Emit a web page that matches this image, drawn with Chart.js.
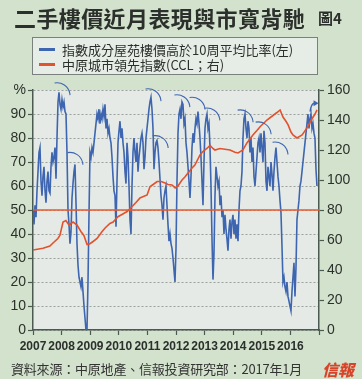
<!DOCTYPE html>
<html>
<head>
<meta charset="utf-8">
<script src="https://cdn.jsdelivr.net/npm/chart.js@4.4.0/dist/chart.umd.min.js"></script>
<style>
    body { margin: 0; width: 362px; height: 379px; overflow: hidden; position: relative;
           background: #d3e2cc; font-family: "Noto Sans CJK TC", sans-serif; color: #2c302d; }
    #title { position: absolute; left: 14px; top: 3px; font-size: 22px; font-weight: bold; line-height: 28px; letter-spacing: 0.4px; }
    #fig { position: absolute; left: 318px; top: 6px; font-size: 15px; font-weight: bold; line-height: 24px; }
    #legend { position: absolute; left: 32px; top: 37px; width: 284px; height: 36px; border: 1px solid #7a807b;
              background: #e6ece6; font-size: 13px; line-height: 15px; }
    .row { position: absolute; left: 29px; white-space: nowrap; }
    .dash { position: absolute; left: -23px; top: 6px; width: 16px; height: 2.5px; }
    #chartBox { position: absolute; left: 0; top: 0; width: 362px; height: 379px; }
    #source { position: absolute; left: 11px; top: 360px; font-size: 13px; line-height: 18px; white-space: nowrap; color: #333; letter-spacing: -0.2px; }
    #logo { position: absolute; left: 322px; top: 359px; font-size: 16px; font-weight: 900; line-height: 20px; color: #d8442a; font-style: italic; }
</style>
</head>
<body>
<div id="chartBox"><canvas id="ratioChart"></canvas></div>
<div id="title">二手樓價近月表現與市寬背馳</div>
<div id="fig">圖4</div>
<div id="legend">
    <div class="row" style="top:4px"><span class="dash" style="background:#3e66b0"></span>指數成分屋苑樓價高於10周平均比率(左)</div>
    <div class="row" style="top:19px"><span class="dash" style="background:#e2522c"></span>中原城市領先指數(CCL；右)</div>
</div>
<div id="source">資料來源：中原地產、信報投資研究部：2017年1月</div>
<div id="logo">信報</div>
<script>
// 指數成分屋苑樓價高於10周平均比率 (%), one reading about every 13 days from Jan 2007
const ratioStart = 2007;
const ratioStepDays = 12.77;
const ratio = [
    50, 44, 52, 47, 58, 66, 74, 76, 62, 56, 64, 68, 58, 53, 62, 66, 58, 57, 68, 74,
    70, 72, 76, 63, 80, 95, 99, 94, 92, 96, 93, 95, 91, 90, 74, 50, 44, 36, 41, 55,
    61, 66, 69, 53, 36, 27, 22, 20, 18, 22, 16, 10, 5, 0, 0, 20, 48, 74, 72, 76,
    74, 78, 82, 86, 90, 88, 92, 86, 90, 88, 92, 89, 94, 84, 88, 82, 84, 80, 78, 72,
    64, 58, 56, 43, 62, 78, 83, 87, 80, 84, 78, 74, 66, 61, 78, 72, 60, 46, 40, 60,
    74, 80, 74, 70, 78, 66, 72, 76, 80, 82, 78, 67, 72, 80, 84, 88, 92, 95, 97, 92,
    84, 67, 74, 78, 79, 76, 70, 63, 56, 52, 46, 55, 58, 60, 52, 44, 37, 40, 36, 34,
    30, 25, 20, 34, 62, 82, 90, 92, 88, 95, 94, 86, 88, 78, 74, 68, 62, 55, 64, 76,
    82, 78, 84, 88, 86, 91, 86, 80, 72, 62, 52, 70, 84, 88, 90, 84, 86, 76, 60, 38,
    21, 32, 56, 68, 64, 60, 62, 52, 56, 47, 50, 40, 48, 42, 38, 33, 42, 46, 38, 45,
    48, 40, 46, 38, 44, 37, 50, 58, 60, 66, 80, 88, 90, 84, 80, 87, 84, 74, 80, 70,
    76, 64, 60, 66, 72, 78, 80, 74, 82, 76, 70, 83, 78, 62, 58, 68, 64, 60, 70, 65,
    58, 66, 72, 76, 70, 64, 60, 54, 49, 35, 20, 22, 18, 16, 20, 14, 12, 10, 8, 16,
    22, 28, 14, 26, 46, 50, 54, 60, 62, 66, 70, 74, 78, 82, 86, 90, 84, 88, 90, 84,
    86, 82, 80, 67, 60
];

// 中原城市領先指數 CCL
const cclDates = [
    2007.00, 2007.35, 2007.59, 2007.70, 2007.87, 2007.94, 2008.05, 2008.15, 2008.26, 2008.40,
    2008.54, 2008.68, 2008.78, 2008.89, 2008.99, 2009.10, 2009.24, 2009.41, 2009.52, 2009.69,
    2009.80, 2009.97, 2010.11, 2010.29, 2010.50, 2010.60, 2010.74, 2010.99, 2011.09, 2011.20,
    2011.34, 2011.48, 2011.62, 2011.72, 2011.86, 2011.97, 2012.07, 2012.21, 2012.31, 2012.42,
    2012.56, 2012.66, 2012.84, 2012.94, 2013.08, 2013.19, 2013.29, 2013.36, 2013.54, 2013.71,
    2013.89, 2014.06, 2014.17, 2014.34, 2014.48, 2014.69, 2014.83, 2014.94, 2015.18, 2015.39,
    2015.53, 2015.64, 2015.74, 2015.85, 2015.92, 2016.02, 2016.09, 2016.23, 2016.41, 2016.58,
    2016.76, 2016.86, 2016.93
];
const cclValues = [
    53.3, 54.5, 56, 58, 61, 63, 72, 73, 70, 72,
    70, 65.5, 63, 57, 57.5, 59, 61, 65.5, 68, 71,
    72, 75.5, 77, 79, 83, 85, 88, 90, 95.5, 97,
    99, 99, 98, 97, 96.7, 94.7, 96, 100, 102, 104.7,
    108, 110, 116.7, 119, 121, 123, 121, 120, 121, 120.5,
    120, 118.5, 118, 120, 124.7, 130, 133, 135.5, 140, 143,
    145, 146.7, 142, 139, 136.7, 132, 130, 128, 130, 134.7,
    141, 144, 146.7
];

const refLevel = 80;          // CCL 80 橫線
const yearTicks = [2007, 2008, 2009, 2010, 2011, 2012, 2013, 2014, 2015, 2016];

// 圖上的弧形標記 (起點：年份, %)
const arcYears = [2007.84, 2008.29, 2011.02, 2011.27, 2012.03, 2012.56, 2013.08, 2014.24, 2014.87, 2015.46];
const arcValues = [103, 74, 100.5, 81, 98, 97, 92.5, 91.7, 86.7, 78.3];
// 2016 年尾的上升箭嘴 (起點、終點)
const arrowYears = [2016.69, 2016.95];
const arrowValues = [91, 94.5];

const blue = '#3e66b0';
const red = '#e2522c';
const axisColor = '#4a5a50';

const ratioPoints = ratio.map((v, i) => ({ x: ratioStart + i * ratioStepDays / 365.25, y: v }));
const cclPoints = cclDates.map((d, i) => ({ x: d, y: cclValues[i] }));

const plotBg = {
    id: 'plotBg',
    beforeDraw(chart) {
        const { ctx, chartArea: a } = chart;
        ctx.save();
        ctx.fillStyle = '#e5eae7';
        ctx.fillRect(a.left, a.top, a.right - a.left, a.bottom - a.top);
        ctx.restore();
    }
};

const arcMarks = {
    id: 'arcMarks',
    afterDatasetsDraw(chart) {
        const { ctx } = chart;
        const xs = chart.scales.x, ys = chart.scales.y;
        const r = 13;
        ctx.save();
        ctx.strokeStyle = blue;
        ctx.fillStyle = blue;
        ctx.lineWidth = 1.1;
        arcYears.forEach((yr, i) => {
            const px = xs.getPixelForValue(yr);
            const py = ys.getPixelForValue(arcValues[i]);
            ctx.beginPath();
            ctx.arc(px, py + r, r, -Math.PI * 0.56, -0.05);
            ctx.stroke();
        });
        // 箭嘴
        const x0 = xs.getPixelForValue(arrowYears[0]), y0 = ys.getPixelForValue(arrowValues[0]);
        const x1 = xs.getPixelForValue(arrowYears[1]), y1 = ys.getPixelForValue(arrowValues[1]);
        ctx.lineWidth = 1.4;
        ctx.beginPath();
        ctx.moveTo(x0, y0);
        ctx.quadraticCurveTo(x0 + 1, y1, x1 - 3, y1);
        ctx.stroke();
        ctx.beginPath();
        ctx.moveTo(x1 + 1, y1);
        ctx.lineTo(x1 - 4, y1 - 3);
        ctx.lineTo(x1 - 4, y1 + 3);
        ctx.closePath();
        ctx.fill();
        ctx.restore();
    }
};

new Chart(document.getElementById('ratioChart'), {
    type: 'line',
    data: {
        datasets: [{
            label: '指數成分屋苑樓價高於10周平均比率(左)',
            data: ratioPoints,
            yAxisID: 'y',
            borderColor: blue,
            borderWidth: 1.6,
            pointRadius: 0,
            tension: 0,
            order: 3
        }, {
            label: '中原城市領先指數(CCL；右)',
            data: cclPoints,
            yAxisID: 'y1',
            borderColor: red,
            borderWidth: 1.6,
            pointRadius: 0,
            tension: 0,
            order: 2
        }, {
            label: '80',
            data: [{ x: 2007, y: refLevel }, { x: 2017, y: refLevel }],
            yAxisID: 'y1',
            borderColor: '#e8582c',
            borderWidth: 1.6,
            pointRadius: 0,
            order: 1
        }]
    },
    options: {
        responsive: true,
        maintainAspectRatio: false,
        animation: false,
        layout: { padding: { top: 90, left: 0, right: 0, bottom: 0 } },
        plugins: {
            legend: { display: false },
            title: { display: false },
            tooltip: { enabled: false }
        },
        scales: {
            x: {
                type: 'linear',
                min: 2007,
                max: 2017,
                afterBuildTicks: (scale) => { scale.ticks = yearTicks.concat([2017]).map(v => ({ value: v })); },
                afterFit: (scale) => { scale.height = 49; },
                ticks: {
                    padding: 4,
                    color: '#2c302d',
                    font: { family: '"Liberation Sans Narrow", "Liberation Sans", sans-serif', size: 12, weight: 'bold' },
                    callback: (v) => yearTicks.includes(v) ? String(v) : '',
                    maxRotation: 0,
                    autoSkip: false
                },
                grid: { drawOnChartArea: false, tickLength: 5, tickColor: axisColor, tickWidth: 1.2 },
                border: { color: axisColor, width: 1.5 }
            },
            y: {
                position: 'left',
                min: 0,
                max: 100,
                afterFit: (scale) => { scale.width = 33; },
                ticks: {
                    stepSize: 10,
                    padding: 2,
                    color: '#2c302d',
                    font: { family: '"Liberation Sans", sans-serif', size: 14 },
                    callback: (v) => v === 100 ? '%' : v
                },
                grid: { color: '#9aa09c', lineWidth: 1, tickLength: 5, tickColor: axisColor, tickWidth: 1.2, tickBorderDash: [] },
                border: { color: axisColor, width: 1.5, dash: [2, 2] }
            },
            y1: {
                position: 'right',
                min: 0,
                max: 160,
                afterFit: (scale) => { scale.width = 43; },
                ticks: {
                    stepSize: 20,
                    padding: 3,
                    color: '#2c302d',
                    font: { family: '"Liberation Sans", sans-serif', size: 14 }
                },
                grid: { drawOnChartArea: false, tickLength: 5, tickColor: axisColor, tickWidth: 1.2 },
                border: { color: axisColor, width: 1.5 }
            }
        }
    },
    plugins: [plotBg, arcMarks]
});
</script>
</body>
</html>
